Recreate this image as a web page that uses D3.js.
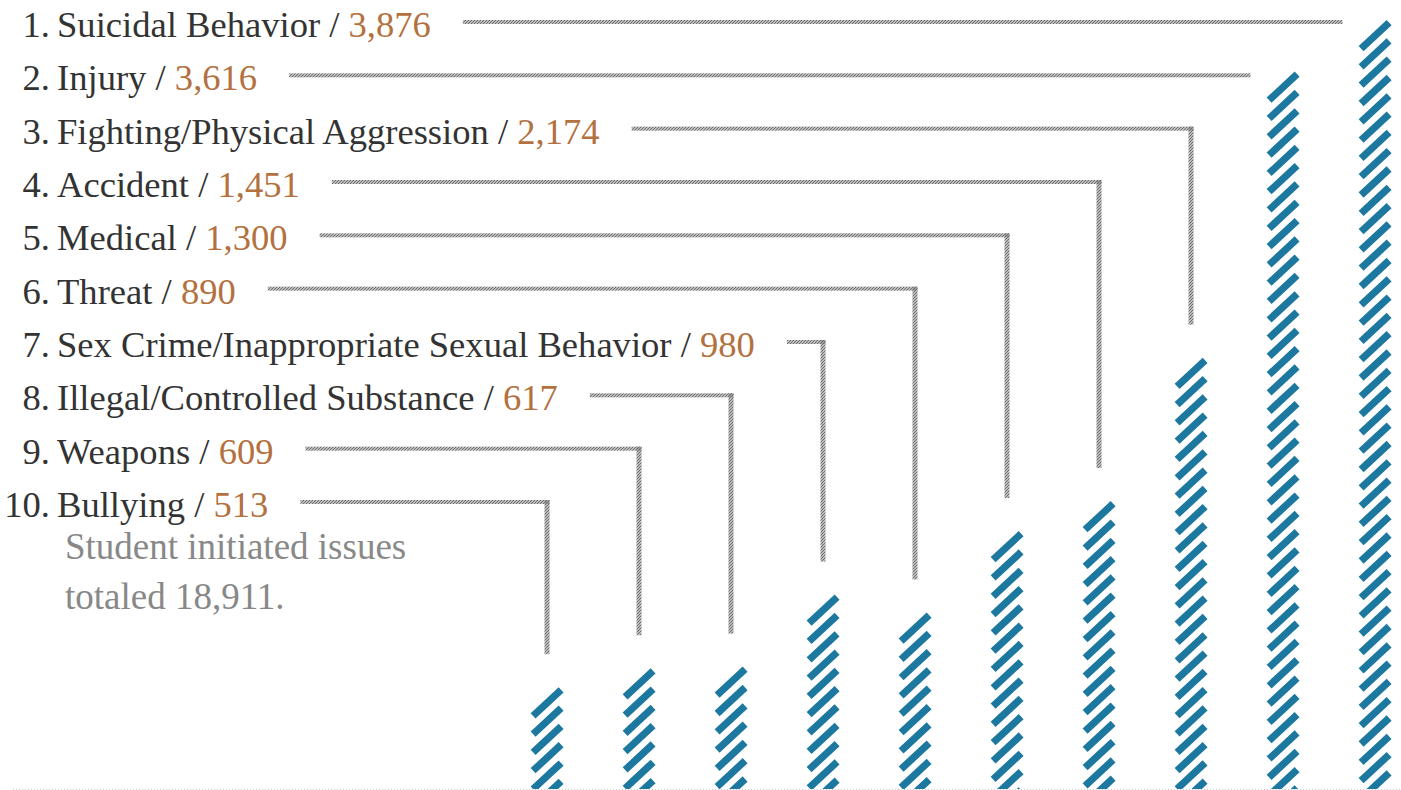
<!DOCTYPE html>
<html>
<head>
<meta charset="utf-8">
<script src="https://cdn.jsdelivr.net/npm/d3@7"></script>
<style>
  body { margin: 0; background: #fff; }
  svg { display: block; }
  text { font-family: "Liberation Serif", "DejaVu Serif", serif; }
</style>
</head>
<body>
<svg id="chart" width="1401" height="790"></svg>
<script>
// ranked list, top to bottom
var ranks = [1, 2, 3, 4, 5, 6, 7, 8, 9, 10];
var categories = ["Suicidal Behavior", "Injury", "Fighting/Physical Aggression", "Accident",
  "Medical", "Threat", "Sex Crime/Inappropriate Sexual Behavior",
  "Illegal/Controlled Substance", "Weapons", "Bullying"];
var values = [3876, 3616, 2174, 1451, 1300, 890, 980, 617, 609, 513];
var noteLines = ["Student initiated issues", "totaled 18,911."];

var svg = d3.select("#chart");
var fmt = d3.format(",");
var baseline = 789;

var data = categories.map(function (c, i) {
  return { rank: ranks[i], name: c, value: values[i] };
});

// bars run from rank 10 on the left to rank 1 on the right
var x = d3.scalePoint().domain(categories.slice().reverse()).range([547, 1375]);
var y = d3.scaleLinear().domain([0, d3.max(values)]).range([baseline, 20]);
var row = d3.scalePoint().domain(categories).range([37, 517]);

var defs = svg.append("defs");
var pat = defs.append("pattern")
  .attr("id", "hatch").attr("patternUnits", "userSpaceOnUse")
  .attr("width", 3).attr("height", 3);
pat.append("path").attr("d", "M-1,1 L1,-1 M0,3 L3,0 M2,4 L4,2")
  .attr("stroke", "#6c6c6c").attr("stroke-width", 1.3);

defs.append("clipPath").attr("id", "clipBase")
  .append("rect").attr("x", 0).attr("y", 0).attr("width", 1401).attr("height", baseline);

// dotted baseline
svg.append("line")
  .attr("x1", 13).attr("x2", 1401).attr("y1", baseline + 0.5).attr("y2", baseline + 0.5)
  .attr("stroke", "#cfcfcf").attr("stroke-dasharray", "1,2");

// labels
var labels = svg.append("g");
var rows = labels.selectAll("g.row").data(data).enter().append("g").attr("class", "row");

rows.append("text")
  .attr("x", 50).attr("y", function (d) { return row(d.name); })
  .attr("text-anchor", "end")
  .attr("font-size", 36.6).attr("fill", "#333")
  .text(function (d) { return d.rank + "."; });

var lab = rows.append("text")
  .attr("x", 57).attr("y", function (d) { return row(d.name); })
  .attr("font-size", 36.6).attr("fill", "#333");
lab.append("tspan").text(function (d) { return d.name + " / "; });
lab.append("tspan").attr("fill", "#b3713f").text(function (d) { return fmt(d.value); });

lab.each(function (d) { d.textEnd = 57 + this.getComputedTextLength(); });

// leader lines
var leaders = svg.append("g").attr("fill", "url(#hatch)");
data.forEach(function (d) {
  var ly = row(d.name) - 17;
  var cx = x(d.name);
  var x0 = d.textEnd + 32;
  if (d.rank <= 2) {
    // straight across to just left of the bar
    leaders.append("rect").attr("x", x0).attr("y", ly)
      .attr("width", cx - 16.5 - 16 - x0).attr("height", 4);
  } else {
    leaders.append("rect").attr("x", x0).attr("y", ly)
      .attr("width", cx + 2.5 - x0).attr("height", 4);
    leaders.append("rect").attr("x", cx - 2.5).attr("y", ly)
      .attr("width", 5).attr("height", y(d.value) - 33 - ly);
  }
});

// hatched bars made of diagonal strokes
var bars = svg.append("g").attr("clip-path", "url(#clipBase)")
  .attr("stroke", "#1d789f").attr("stroke-width", 7.2);
data.forEach(function (d) {
  var left = x(d.name) - 16.5;
  for (var t = y(d.value); t < baseline; t += 18.3) {
    bars.append("line")
      .attr("x1", left + 2.6).attr("y1", t + 28.6)
      .attr("x2", left + 30.6).attr("y2", t + 2.6);
  }
});

// note
svg.append("text").attr("x", 65).attr("y", 559)
  .attr("font-size", 37).attr("fill", "#888")
  .selectAll("tspan").data(noteLines).enter().append("tspan")
  .attr("x", 65).attr("dy", function (d, i) { return i ? 50 : 0; })
  .text(function (d) { return d; });
</script>
</body>
</html>
